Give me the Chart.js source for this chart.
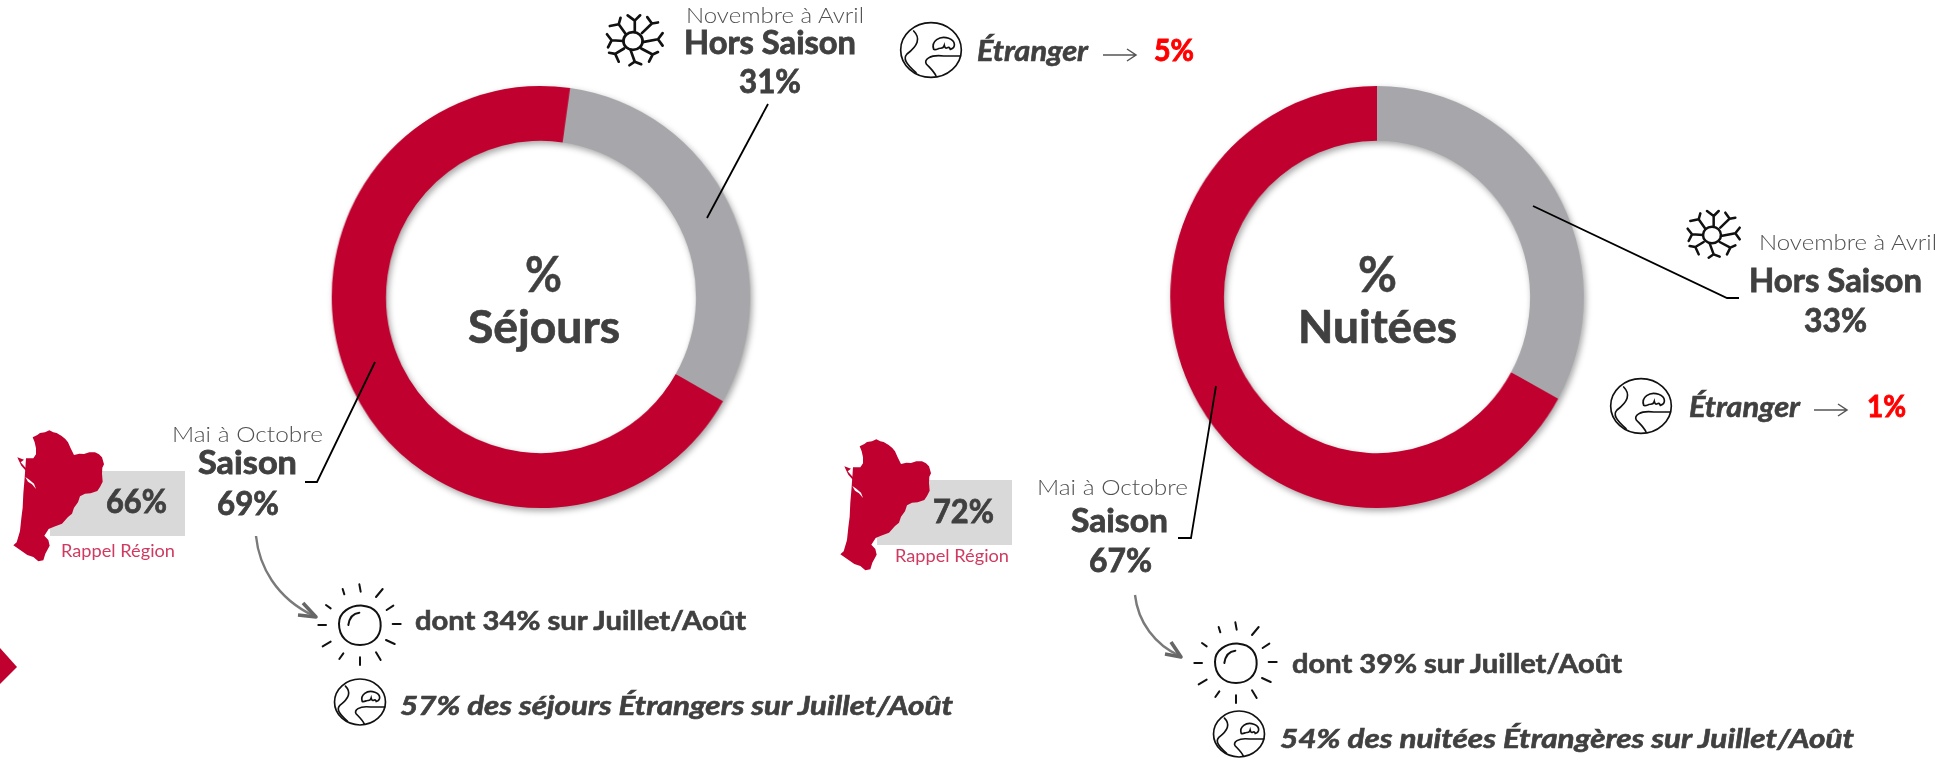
<!DOCTYPE html>
<html lang="fr"><head><meta charset="utf-8">
<style>
html,body{margin:0;padding:0;background:#fff;overflow:hidden}
#stage{position:relative;width:1942px;height:758px;overflow:hidden}
canvas{position:absolute;filter:drop-shadow(2px 3px 3px rgba(0,0,0,.35))}
svg{position:absolute;left:0;top:0}
text{font-family:Lato,"Open Sans",sans-serif}
</style>
<script src="https://cdn.jsdelivr.net/npm/chart.js@4"></script>
</head><body>
<div id="stage">
<canvas id="c1" width="460" height="460" style="left:311px;top:67px;transform:scaleX(.992)"></canvas>
<canvas id="c2" width="460" height="460" style="left:1147px;top:67px;transform:scaleX(.98)"></canvas>
<svg id="ov" width="1942" height="758" viewBox="0 0 1942 758" xmlns="http://www.w3.org/2000/svg"></svg>
</div>
<script>
const categories = ["Hors Saison", "Saison"];
const periods = ["Novembre à Avril", "Mai à Octobre"];
const sejoursValues = [31, 69];
const nuiteesValues = [33, 67];
const regionValues = [66, 72];
const etrangerValues = [5, 1];
const juilletAoutValues = [34, 39];
const etrangerJuilletAoutValues = [57, 54];
const sliceColors = ["#a7a7ab", "#c0002e"];

function donut(id, values, rotation, pad){
  new Chart(document.getElementById(id), {
    type: "doughnut",
    data: { labels: categories, datasets: [{ data: values, backgroundColor: sliceColors, borderWidth: 0 }] },
    options: { responsive:false, animation:false, cutout:"74%", rotation,
      layout:{padding:pad}, plugins:{legend:{display:false}, tooltip:{enabled:false}} }
  });
}
donut("c1", sejoursValues, 8, 19);
donut("c2", nuiteesValues, 0, 19);

const DARK="#404040", LIGHT="#505050";
let s = "";
function T(t,x1,x2,y,size,o={}){
  const w=o.w||700;
  const paint = w>=700 ? `stroke="${o.c||DARK}" stroke-width="${o.sw||0.5}"` : "";
  s += `<text x="${x1}" y="${y}" textLength="${x2-x1}" lengthAdjust="spacingAndGlyphs" font-size="${size}" font-weight="${w}" font-style="${o.i?'italic':'normal'}" fill="${o.c||DARK}" ${paint}>${t}</text>`;
}
const mapPath = "M98 37L112 30 120 24 135 22 148 16 160 22 170 24 185 33 196 42 204 52 212 70 222 90 238 86 252 87 268 82 285 82 297 88 306 97 312 118 307 128 306 146 308 170 300 186 292 198 272 205 255 206 240 214 234 232 222 248 216 266 204 276 186 296 160 306 146 312 133 332 145 345 149 362 136 386 130 406 115 409 100 396 82 390 68 380 40 361 50 352 54 338 60 318 64 280 68 248 70 205 73 170 76 130 78 100 100 100 108 88 108 70 104 52Z";
function region(dx,dy,val,lx1,lx2,ly,vx1,vx2,vy){
  s += `<rect x="${dx+50}" y="${dy+471}" width="135" height="65" fill="#d9d9d9"/>`;
  s += `<g transform="translate(${dx},${dy+425}) scale(${1/3})"><path d="${mapPath}" fill="#c0002e"/>
    <path d="M52 97L72 104 62 112 78 130 80 140 64 122 56 106Z" fill="#c0002e"/>
    <path d="M76 156L88 164 102 176 108 192 96 178 84 170Z" fill="#fff"/></g>`;
  T(val+"%",vx1,vx2,vy,33,{sw:.8});
  T("Rappel Région",lx1,lx2,ly,18,{w:400,c:"#cf3a60"});
}
region(0,0,regionValues[0],61,175,557,106,167,513);
region(827,9,regionValues[1],895,1009,562,933,994,523);

function snow(cx,cy,k){
  const arms=[[5,-27,5,-57,-15,-72],[5,-57,20,-72,5,-57],[25,-22,53,-49,40,-67],[53,-49,70,-52,53,-49],
   [27,3,70,-5,83,-22],[70,-5,83,13,70,-5],[23,21,55,38,45,58],[55,38,70,31,55,38],
   [-7,25,5,58,-10,68],[5,58,23,65,5,58],[-25,21,-50,36,-67,33],[-50,36,-40,58,-50,36],
   [-27,0,-60,-2,-73,-19],[-60,-2,-70,18,-60,-2],[-20,-19,-40,-47,-65,-42],[-40,-47,-35,-65,-40,-47]];
  let d=arms.map(a=>`M${a[0]} ${a[1]}L${a[2]} ${a[3]}L${a[4]} ${a[5]}`).join("");
  s+=`<g transform="translate(${cx},${cy}) scale(${k/3})" fill="none" stroke="#111" stroke-width="7.5" stroke-linecap="round" stroke-linejoin="round"><ellipse rx="27" ry="25"/><path d="${d}"/></g>`;
}
function globe(cx,cy,k){
  s+=`<g transform="translate(${cx},${cy}) scale(${k/3})" fill="none" stroke="#111" stroke-width="${5/k}" stroke-linecap="round"><ellipse rx="91" ry="82"/>
   <path d="M-52 -57C-30 -35 -40 -12 -72 12C-85 25 -75 42 -45 68"/>
   <path d="M8 -2C0 -25 25 -45 53 -35C75 -27 75 -7 58 -2C52 -18 45 6 40 -14C36 0 28 -8 22 -4C17 -2 12 0 8 -2Z"/>
   <path d="M88 18L38 18C-5 13 -22 30 -14 42C5 62 10 66 15 78"/></g>`;
}
function sun(cx,cy){
  const rays=[[-2,-122,2,-100],[-52,-108,-47,-92],[68,-108,48,-84],[-102,-60,-88,-50],[100,-58,80,-45],[-125,0,-102,0],[98,-3,122,-3],[-112,64,-88,50],[78,45,104,57],[-62,102,-50,85],[48,82,62,105],[0,97,0,120]];
  s+=`<g transform="translate(${cx},${cy}) scale(${1/3})" fill="none" stroke="#111" stroke-width="6" stroke-linecap="round"><path d="M-63 -4C-63 -38 -30 -60 8 -58C45 -55 63 -30 62 3C61 38 35 60 0 60C-38 60 -63 34 -63 -4Z"/><path d="M-35 0C-32 -20 -22 -35 -2 -37"/>`
   + rays.map(r=>`<path d="M${r[0]} ${r[1]}L${r[2]} ${r[3]}"/>`).join("")+`</g>`;
}
function curved(d,h){
  s+=`<path d="${d}" fill="none" stroke="#7a7a7a" stroke-width="2.4"/><path d="${h}" fill="none" stroke="#666" stroke-width="3.6" stroke-linejoin="round"/>`;
}
function small(x1,x2,y){
  s+=`<path d="M${x1} ${y}H${x2}M${x2-9} ${y-6}L${x2} ${y}L${x2-9} ${y+6}" fill="none" stroke="#555" stroke-width="1.5"/>`;
}
function leader(d){ s+=`<path d="${d}" fill="none" stroke="#000" stroke-width="1.8"/>`; }

/* leader lines */
leader("M768 104L707 218");
leader("M1739 298H1727L1533 206");
leader("M305 482H317L375 362");
leader("M1178 538H1191L1216 386");

/* left donut */
T("%",525,562,292,50);
T("Séjours",468,620,343,45,{sw:.7});
T(periods[0],686,864,23,22,{w:300,c:LIGHT});
T(categories[0],684,856,54,32,{sw:.8});
T(sejoursValues[0]+"%",739,801,93,33,{sw:.8});
snow(633,41,1.07); globe(931,50,1);
T("Étranger",977,1088,61,28,{i:1,sw:.6});
small(1103,1136,55);
T(etrangerValues[0]+"%",1154,1194,61,31,{c:"#ff0000",sw:.9});
T(periods[1],172,323,442,22,{w:300,c:LIGHT});
T(categories[1],198,297,474,32,{sw:.8});
T(sejoursValues[1]+"%",217,279,515,33,{sw:.8});
curved("M256 536C259 566 276 598 314 616","M303 603L316 617L298 615");
sun(360,625);
T("dont "+juilletAoutValues[0]+"% sur Juillet/Août",415,746,630,26,{sw:.6});
globe(360,702,.84);
T(etrangerJuilletAoutValues[0]+"% des séjours Étrangers sur Juillet/Août",400,953,715,26,{i:1,sw:.6});

/* right donut */
T("%",1358,1397,292,50);
T("Nuitées",1298,1457,343,45,{sw:.7});
snow(1712,235,1);
T(periods[0],1759,1937,250,22,{w:300,c:LIGHT});
T(categories[0],1749,1922,292,32,{sw:.8});
T(nuiteesValues[0]+"%",1804,1867,332,33,{sw:.8});
globe(1641,406,1);
T("Étranger",1689,1800,417,28,{i:1,sw:.6});
small(1814,1847,410);
T(etrangerValues[1]+"%",1867,1906,417,31,{c:"#ff0000",sw:.9});
T(periods[1],1037,1188,495,22,{w:300,c:LIGHT});
T(categories[1],1071,1168,532,32,{sw:.8});
T(nuiteesValues[1]+"%",1089,1152,572,33,{sw:.8});
curved("M1135 595C1138 622 1155 645 1180 656","M1171 642L1181 657L1165 654");
sun(1236,663);
T("dont "+juilletAoutValues[1]+"% sur Juillet/Août",1292,1622,673,26,{sw:.6});
globe(1239,734,.84);
T(etrangerJuilletAoutValues[1]+"% des nuitées Étrangères sur Juillet/Août",1280,1854,748,26,{i:1,sw:.6});

/* page marker */
s+=`<polygon points="0,648 17,667 0,684" fill="#c0002e"/>`;
document.getElementById("ov").innerHTML = s;
</script>
</body></html>
